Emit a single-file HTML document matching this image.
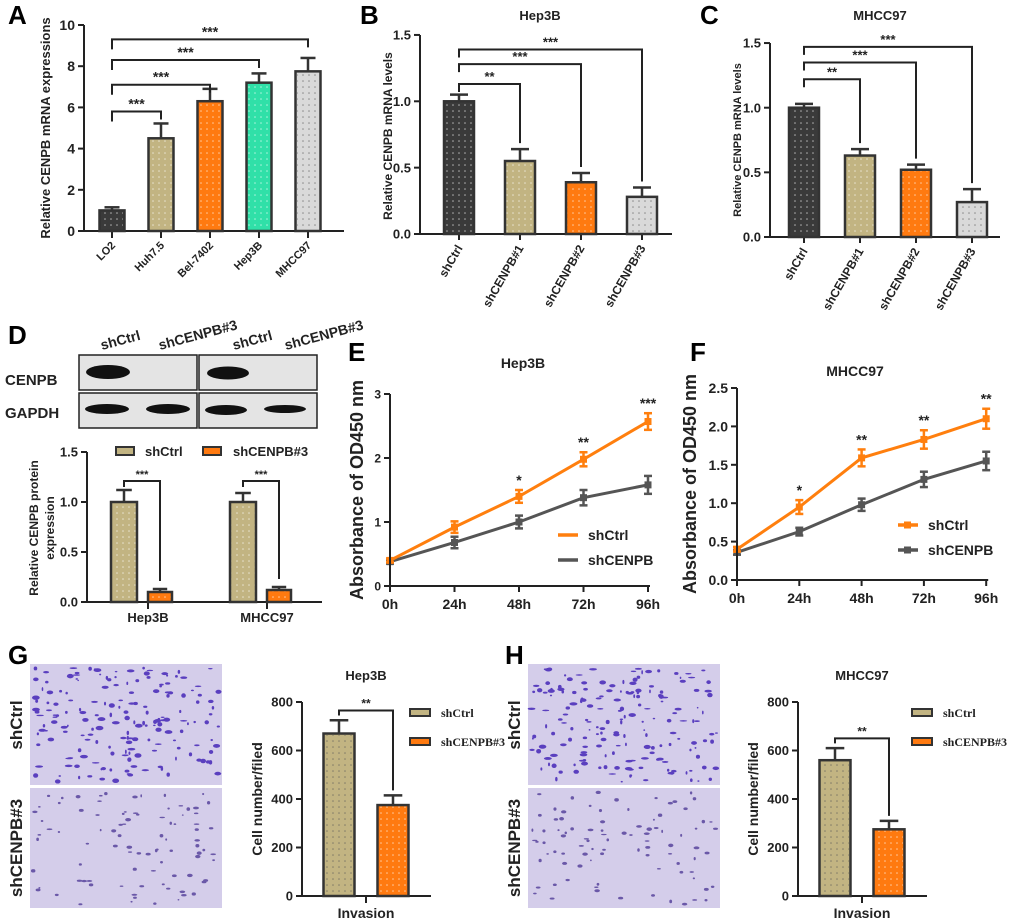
<!DOCTYPE html>
<html><head><meta charset="utf-8"><style>
html,body{margin:0;padding:0;background:#fff;}
svg{display:block;font-family:"Liberation Sans",Arial,sans-serif;}
</style></head><body>
<svg id="fig" width="1020" height="924" viewBox="0 0 1020 924" xmlns="http://www.w3.org/2000/svg">
<defs>
<pattern id="dotsW" width="6" height="6" patternUnits="userSpaceOnUse"><circle cx="3" cy="3" r="0.8" fill="#fff" fill-opacity="0.6"/></pattern>
<pattern id="dotsK" width="6" height="6" patternUnits="userSpaceOnUse"><circle cx="3" cy="3" r="0.8" fill="#555" fill-opacity="0.6"/></pattern>
</defs>
</svg>
<script>
// ---------- DATA ----------
const aCats=["LO2","Huh7.5","Bel-7402","Hep3B","MHCC97"];
const aVals=[1.0,4.5,6.3,7.2,7.75];
const aErrs=[0.15,0.72,0.6,0.45,0.65];
const aTicks=[0,2,4,6,8,10];
const aBrackets=[5.8,7.1,8.3,9.3];
const aBracketTo=[1,2,3,4];

const bCats=["shCtrl","shCENPB#1","shCENPB#2","shCENPB#3"];
const bVals=[1.0,0.55,0.39,0.28];
const bErrs=[0.05,0.09,0.07,0.07];
const bTicks=[0,0.5,1.0,1.5];
const bBrackets=[1.13,1.28,1.39];
const bStars=["**","***","***"];

const cCats=["shCtrl","shCENPB#1","shCENPB#2","shCENPB#3"];
const cVals=[1.0,0.63,0.52,0.27];
const cErrs=[0.03,0.05,0.04,0.1];
const cTicks=[0,0.5,1.0,1.5];
const cBrackets=[1.22,1.35,1.47];
const cStars=["**","***","***"];

const dGroups=["Hep3B","MHCC97"];
const dCtrl=[1.0,1.0];
const dCtrlErr=[0.12,0.09];
const dSh=[0.1,0.12];
const dShErr=[0.03,0.03];
const dTicks=[0,0.5,1.0,1.5];
const dBracket=[1.21,1.21];

const timeCats=["0h","24h","48h","72h","96h"];
const eCtrl=[0.4,0.92,1.4,1.98,2.57];
const eCtrlErr=[0.03,0.09,0.1,0.11,0.13];
const eSh=[0.38,0.68,1.0,1.38,1.58];
const eShErr=[0.03,0.09,0.1,0.12,0.14];
const eTicks=[0,1,2,3];
const eStars=["","","*","**","***"];

const fCtrl=[0.4,0.95,1.59,1.83,2.1];
const fCtrlErr=[0.03,0.09,0.11,0.12,0.13];
const fSh=[0.36,0.63,0.98,1.31,1.55];
const fShErr=[0.03,0.05,0.08,0.1,0.12];
const fTicks=[0,0.5,1.0,1.5,2.0,2.5];
const fStars=["","*","**","**","**"];

const gVals=[670,375];
const gErrs=[55,40];
const hVals=[560,275];
const hErrs=[50,35];
const invTicks=[0,200,400,600,800];

// ---------- HELPERS ----------
const NS="http://www.w3.org/2000/svg";
const svg=document.getElementById("fig");
function mk(tag,name,attrs,parent){
  const el=document.createElementNS(NS,tag);
  
  
  for(const k in attrs) el.setAttribute(k,attrs[k]);
  (parent||svg).appendChild(el);
  return el;
}
function txt(name,x,y,s,size,extra,parent){
  const t=mk("text",name,Object.assign({x:x,y:y,"font-size":size,"font-weight":"bold",fill:"#222"},extra||{}),parent);
  t.textContent=s; return t;
}
function line(name,x1,y1,x2,y2,w,col,parent){
  return mk("line",name,{x1:x1,y1:y1,x2:x2,y2:y2,stroke:col||"#222","stroke-width":w||2},parent);
}
function linY(y0,k){return v=>y0-v*k;}
function yAxis(name,x,ys,ticks,top,bottom,size,dec){
  const g=mk("g",name,{});
  line("y-axis-line",x,top,x,bottom,2,"#222",g);
  ticks.forEach(t=>{
    line("y-tick",x-6,ys(t),x,ys(t),2,"#222",g);
    txt("y-tick-label",x-9,ys(t)+size*0.36,dec?t.toFixed(dec):String(t),size,{"text-anchor":"end"},g);
  });
  return g;
}
function bar(name,g,cx,w,val,err,ys,fill,dots){
  const y=ys(val), y0=ys(0);
  line(name+"-error",cx,y,cx,ys(val+err),2.5,"#333",g);
  line(name+"-cap",cx-w*0.3,ys(val+err),cx+w*0.3,ys(val+err),2.5,"#333",g);
  mk("rect",name,{x:cx-w/2,y:y,width:w,height:y0-y,fill:fill,stroke:"#333","stroke-width":2.5},g);
  mk("rect",name+"-pattern",{x:cx-w/2+1.5,y:y+1.5,width:Math.max(0,w-3),height:Math.max(0,y0-y-3),fill:dots||"url(#dotsW)"},g);
}
function bracket(name,g,x1,x2,y,d1,d2,star,size){
  mk("path",name,{d:`M${x1} ${y+d1} V${y} H${x2} V${y+d2}`,fill:"none",stroke:"#222","stroke-width":2},g);
  txt(name+"-stars",(x1+x2)/2,y-3,star,size||14,{"text-anchor":"middle"},g);
}
function panelLetter(l,x,y){txt("panel-label-"+l,x,y,l,26,{"fill":"#000"});}

// ---------- PANEL A ----------
panelLetter("A",8,24);
(function(){
  const g=mk("g","panel-a",{});
  const ys=linY(231,20.6);
  const xs=i=>112+i*49;
  yAxis("panel-a-y-axis",84,ys,aTicks,25,231,14);
  line("panel-a-x-axis",84,231,344,231,2,"#222",g);
  const fills=["#3a3a3a","#c2b482","#ff7a10","#30e0a8","#d9d9d9"];
  aCats.forEach((c,i)=>{
    line("x-tick",xs(i),231,xs(i),238,2,"#222",g);
    bar("bar-"+c.toLowerCase(),g,xs(i),25,aVals[i],aErrs[i],ys,fills[i],i==4?"url(#dotsK)":"url(#dotsW)");
    txt("x-label-"+c.toLowerCase(),xs(i)+4,246,c,11,{"text-anchor":"end",transform:`rotate(-45 ${xs(i)+4} 246)`},g);
  });
  aBrackets.forEach((b,i)=>{
    const j=aBracketTo[i];
    bracket("bracket-a-"+j,g,xs(0),xs(j),ys(b),10,8,"***",14);
  });
  txt("panel-a-y-title",50,128,"Relative CENPB mRNA expressions",13,{"text-anchor":"middle",transform:"rotate(-90 50 128)"},g);
})();

// ---------- PANEL B / C ----------
function barPanel(id,letter,lx,title,tx,axX,y0,k,xs0,step,xEnd,cats,vals,errs,ticks,brackets,stars){
  panelLetter(letter,lx,24);
  const g=mk("g","panel-"+id,{});
  const ys=linY(y0,k);
  const xs=i=>xs0+i*step;
  txt("panel-"+id+"-title",tx,20,title,13,{"text-anchor":"middle"},g);
  yAxis("panel-"+id+"-y-axis",axX,ys,ticks,ys(1.5),y0,13,1);
  line("panel-"+id+"-x-axis",axX,y0,xEnd,y0,2,"#222",g);
  const fills=["#3a3a3a","#c2b482","#ff7a10","#d9d9d9"];
  cats.forEach((c,i)=>{
    line("x-tick",xs(i),y0,xs(i),y0+6,2,"#222",g);
    bar("bar-"+id+"-"+i,g,xs(i),30,vals[i],errs[i],ys,fills[i],i==3?"url(#dotsK)":"url(#dotsW)");
    txt("x-label",xs(i)+4,y0+14,c,12,{"text-anchor":"end",transform:`rotate(-60 ${xs(i)+4} ${y0+14})`},g);
  });
  brackets.forEach((b,i)=>{
    bracket("bracket-"+id+"-"+(i+1),g,xs(0),xs(i+1),ys(b),8,ys(vals[i+1]+errs[i+1])-ys(b)-6,stars[i],13);
  });
  return g;
}
barPanel("b","B",360,"Hep3B",540,420,234,132.7,459,61,672,bCats,bVals,bErrs,bTicks,bBrackets,bStars);
txt("panel-b-y-title",392,136,"Relative CENPB mRNA levels",12,{"text-anchor":"middle",transform:"rotate(-90 392 136)"});
barPanel("c","C",700,"MHCC97",880,770,237,129.3,804,56,1000,cCats,cVals,cErrs,cTicks,cBrackets,cStars);
txt("panel-c-y-title",741,140,"Relative CENPB mRNA levels",11,{"text-anchor":"middle",transform:"rotate(-90 741 140)"});

// ---------- PANEL D ----------
panelLetter("D",8,344);
(function(){
  const g=mk("g","panel-d",{});
  [["shCtrl",102],["shCENPB#3",160],["shCtrl",234],["shCENPB#3",286]].forEach((l,i)=>{
    txt("blot-lane-label",l[1],350,l[0],14,{transform:`rotate(-15 ${l[1]} 350)`},g);
  });
  txt("blot-label-cenpb",5,385,"CENPB",15,{},g);
  txt("blot-label-gapdh",5,418,"GAPDH",15,{},g);
  [[79,355,118,35],[199,355,118,35],[79,393,118,35],[199,393,118,35]].forEach(b=>{
    mk("rect","blot-box",{x:b[0],y:b[1],width:b[2],height:b[3],fill:"#e4e4e4",stroke:"#222","stroke-width":1.5},g);
  });
  mk("ellipse","band-cenpb-hep3b-ctrl",{cx:108,cy:372,rx:22,ry:7,fill:"#111"},g);
  mk("ellipse","band-cenpb-mhcc-ctrl",{cx:228,cy:373,rx:21,ry:6.5,fill:"#111"},g);
  mk("ellipse","band-gapdh-1",{cx:107,cy:409,rx:22,ry:5,fill:"#111"},g);
  mk("ellipse","band-gapdh-2",{cx:168,cy:409,rx:22,ry:5,fill:"#111"},g);
  mk("ellipse","band-gapdh-3",{cx:226,cy:410,rx:21,ry:5,fill:"#111"},g);
  mk("ellipse","band-gapdh-4",{cx:285,cy:409,rx:21,ry:4,fill:"#111"},g);

  const ys=linY(602,100);
  const gx=i=>148+i*119;
  yAxis("panel-d-y-axis",87,ys,dTicks,452,602,13,1);
  line("panel-d-x-axis",87,602,322,602,2,"#222",g);
  dGroups.forEach((c,i)=>{
    line("x-tick",gx(i),602,gx(i),609,2,"#222",g);
    bar("bar-d-ctrl-"+i,g,gx(i)-24,26,dCtrl[i],dCtrlErr[i],ys,"#c2b482");
    bar("bar-d-sh-"+i,g,gx(i)+12,24,dSh[i],dShErr[i],ys,"#ff7a10");
    bracket("bracket-d-"+i,g,gx(i)-24,gx(i)+12,ys(dBracket[i]),6,ys(dSh[i]+dShErr[i])-ys(dBracket[i])-8,"***",11);
    txt("x-label",gx(i),622,c,13,{"text-anchor":"middle"},g);
  });
  mk("rect","legend-swatch-shctrl",{x:116,y:447,width:18,height:8,fill:"#c2b482",stroke:"#333","stroke-width":2},g);
  txt("legend-label-shctrl",145,456,"shCtrl",13,{},g);
  mk("rect","legend-swatch-shcenpb",{x:203,y:447,width:18,height:8,fill:"#ff7a10",stroke:"#333","stroke-width":2},g);
  txt("legend-label-shcenpb",233,456,"shCENPB#3",13,{},g);
  txt("panel-d-y-title",38,528,"Relative CENPB protein",12,{"text-anchor":"middle",transform:"rotate(-90 38 528)"},g);
  txt("panel-d-y-title-2",54,528,"expression",12,{"text-anchor":"middle",transform:"rotate(-90 54 528)"},g);
})();

// ---------- PANEL E / F ----------
function linePanel(id,letter,lx,ly,title,tx,ty,axX,y0,k,x0,step,ticks,dec,ctrl,ctrlE,sh,shE,stars,legX,legY,ytX,markLeg,tickSize){
  panelLetter(letter,lx,ly);
  const g=mk("g","panel-"+id,{});
  const ys=linY(y0,k);
  const xs=i=>x0+i*step;
  txt("panel-"+id+"-title",tx,ty,title,14,{"text-anchor":"middle"},g);
  yAxis("panel-"+id+"-y-axis",axX,ys,ticks,ys(ticks[ticks.length-1]),y0,tickSize,dec);
  line("panel-"+id+"-x-axis",axX,y0,xs(4)+2,y0,2,"#222",g);
  timeCats.forEach((c,i)=>{
    line("x-tick",xs(i),y0,xs(i),y0+6,2,"#222",g);
    txt("x-label",xs(i),y0+23,c,14,{"text-anchor":"middle"},g);
  });
  [[sh,shE,"#555","shcenpb"],[ctrl,ctrlE,"#ff7f0e","shctrl"]].forEach(s=>{
    const pts=s[0].map((v,i)=>xs(i)+","+ys(v)).join(" ");
    mk("polyline","line-"+s[3],{points:pts,fill:"none",stroke:s[2],"stroke-width":3},g);
    s[0].forEach((v,i)=>{
      line("error-"+s[3],xs(i),ys(v-s[1][i]),xs(i),ys(v+s[1][i]),2.5,s[2],g);
      line("cap-"+s[3],xs(i)-4,ys(v+s[1][i]),xs(i)+4,ys(v+s[1][i]),2.5,s[2],g);
      line("cap-"+s[3],xs(i)-4,ys(v-s[1][i]),xs(i)+4,ys(v-s[1][i]),2.5,s[2],g);
      mk("rect","point-"+s[3],{x:xs(i)-3.5,y:ys(v)-3.5,width:7,height:7,fill:s[2]},g);
    });
  });
  stars.forEach((s,i)=>{ if(s) txt("sig-stars",xs(i),ys(ctrl[i]+ctrlE[i])-5,s,14,{"text-anchor":"middle"},g); });
  line("legend-line-shctrl",legX,legY,legX+20,legY,3.5,"#ff7f0e",g);
  if(markLeg) mk("rect","legend-marker-shctrl",{x:legX+6,y:legY-3.5,width:7,height:7,fill:"#ff7f0e"},g);
  txt("legend-label-shctrl",legX+30,legY+5,"shCtrl",14,{},g);
  line("legend-line-shcenpb",legX,legY+25,legX+20,legY+25,3.5,"#555",g);
  if(markLeg) mk("rect","legend-marker-shcenpb",{x:legX+6,y:legY+21.5,width:7,height:7,fill:"#555"},g);
  txt("legend-label-shcenpb",legX+30,legY+30,"shCENPB",14,{},g);
  const cy=(y0+ys(ticks[ticks.length-1]))/2;
  txt("panel-"+id+"-y-title",ytX,cy,"Absorbance of OD450 nm",18,{"text-anchor":"middle",transform:`rotate(-90 ${ytX} ${cy})`},g);
}
linePanel("e","E",348,361,"Hep3B",523,368,390,586,64,390,64.5,eTicks,0,eCtrl,eCtrlErr,eSh,eShErr,eStars,558,535,363,false,12);
linePanel("f","F",690,361,"MHCC97",855,376,737,580,76.8,737,62.3,fTicks,1,fCtrl,fCtrlErr,fSh,fShErr,fStars,898,525,696,true,14);

// ---------- PANEL G / H ----------
function microImg(name,x,y,w,h,n,seed,col,sz){
  const g=mk("g",name,{});
  mk("rect",name+"-bg",{x:x,y:y,width:w,height:h,fill:"#d4cdea"},g);
  let s=seed;
  const rnd=()=>{s=(s*9301+49297)%233280;return s/233280;};
  for(let i=0;i<n;i++){
    mk("ellipse","cell",{cx:x+3+rnd()*(w-6),cy:y+3+rnd()*(h-6),rx:0.8+rnd()*sz,ry:0.7+rnd()*sz*0.5,fill:col},g);
  }
}
function invPanel(id,letter,lx,imgX,title,axX,x0,vals,errs,legX){
  panelLetter(letter,lx,664);
  microImg("image-"+id+"-shctrl",imgX,664,192,121,180,7+lx,"#5a3fbf",3.2);
  microImg("image-"+id+"-shcenpb",imgX,788,192,120,90,13+lx,"#6a58a8",2.2);
  txt("row-label-shctrl",imgX-8,725,"shCtrl",17,{"text-anchor":"middle",transform:`rotate(-90 ${imgX-8} 725)`});
  txt("row-label-shcenpb",imgX-8,848,"shCENPB#3",17,{"text-anchor":"middle",transform:`rotate(-90 ${imgX-8} 848)`});
  const g=mk("g","panel-"+id+"-chart",{});
  const ys=linY(896,0.2425);
  yAxis("panel-"+id+"-y-axis",axX,ys,invTicks,702,896,13);
  line("panel-"+id+"-x-axis",axX,896,axX+129,896,2,"#222",g);
  line("x-tick",x0+27,896,x0+27,903,2,"#222",g);
  txt("x-label-invasion",x0+27,918,"Invasion",14,{"text-anchor":"middle"},g);
  txt("panel-"+id+"-title",x0+27,680,title,13,{"text-anchor":"middle"},g);
  bar("bar-"+id+"-shctrl",g,x0,31,vals[0],errs[0],ys,"#c2b482","url(#dotsK)");
  bar("bar-"+id+"-shcenpb",g,x0+54,31,vals[1],errs[1],ys,"#ff7a10");
  bracket("bracket-"+id,g,x0,x0+54,ys(Math.max(vals[0]+errs[0],600)+40),5,ys(vals[1]+errs[1])-ys(Math.max(vals[0]+errs[0],600)+40)-5,"**",12);
  txt("panel-"+id+"-y-title",axX-40,799,"Cell number/filed",14,{"text-anchor":"middle",transform:`rotate(-90 ${axX-40} 799)`},g);
  mk("rect","legend-swatch-shctrl",{x:legX,y:709,width:20,height:7,fill:"#c2b482",stroke:"#333","stroke-width":2},g);
  txt("legend-label-shctrl",legX+31,717,"shCtrl",12,{"font-family":"Liberation Serif,serif"},g);
  mk("rect","legend-swatch-shcenpb",{x:legX,y:738,width:20,height:7,fill:"#ff7a10",stroke:"#333","stroke-width":2},g);
  txt("legend-label-shcenpb",legX+31,746,"shCENPB#3",12,{"font-family":"Liberation Serif,serif"},g);
}
invPanel("g","G",8,30,"Hep3B",302,339,gVals,gErrs,410);
invPanel("h","H",505,528,"MHCC97",798,835,hVals,hErrs,912);
</script>
</body></html>
